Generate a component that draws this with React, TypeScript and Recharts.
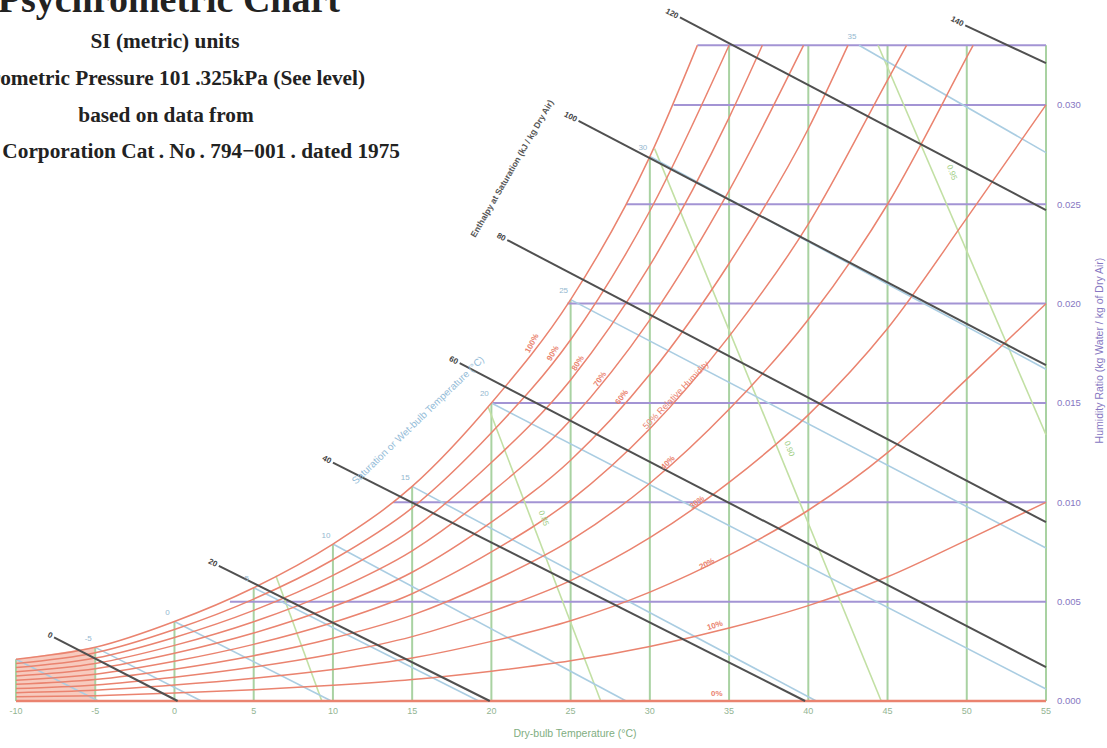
import React from 'react'
import { ComposedChart, Line, Area, XAxis, YAxis, ReferenceDot } from 'recharts'

const FONT = "'Liberation Sans', Arial, sans-serif"
const SERIF = "'Liberation Serif', 'Times New Roman', serif"

const RED = '#ea836f'
const GREEN = '#a9d2a2'
const PURPLE = '#a394d4'
const BLACK = '#505050'
const BLUE = '#aacde2'
const VGREEN = '#c2e0a4'

// dry-bulb grid (°C)
const temps = [-10, -5, 0, 5, 10, 15, 20, 25, 30, 35, 40, 45, 50, 55]

// relative humidity curves: humidity ratio (kg/kg) at each grid temperature
const rh10 = [0.00021, 0.00027, 0.0004, 0.00057, 0.00079, 0.00108, 0.0015, 0.00202, 0.00274, 0.00367, 0.0048, 0.00625, 0.0081, 0.01]
const rh20 = [0.00042, 0.00054, 0.0008, 0.00114, 0.00158, 0.00216, 0.003, 0.00404, 0.00548, 0.00734, 0.0096, 0.0125, 0.0162, 0.02]
const rh30 = [0.00063, 0.00081, 0.0012, 0.00171, 0.00237, 0.00324, 0.0045, 0.00606, 0.00822, 0.011, 0.0144, 0.01875, 0.0243, 0.03]
const rh40 = [0.00084, 0.00108, 0.0016, 0.00228, 0.00316, 0.00432, 0.006, 0.00808, 0.01096, 0.01468, 0.0192, 0.025, 0.0324]
const rh50 = [0.00105, 0.00135, 0.002, 0.00285, 0.00395, 0.0054, 0.0075, 0.0101, 0.0137, 0.01835, 0.024, 0.03125]
const rh60 = [0.00126, 0.00162, 0.0024, 0.00342, 0.00474, 0.00648, 0.009, 0.01212, 0.01644, 0.02202, 0.0288]
const rh70 = [0.00147, 0.00189, 0.0028, 0.00399, 0.00553, 0.00756, 0.0105, 0.01414, 0.01918, 0.02569]
const rh80 = [0.00168, 0.00216, 0.0032, 0.00456, 0.00632, 0.00864, 0.012, 0.01616, 0.02192, 0.02936]
const rh90 = [0.00189, 0.00243, 0.0036, 0.00513, 0.00711, 0.00972, 0.0135, 0.01818, 0.02466]
const rh100 = [0.0021, 0.0027, 0.004, 0.0057, 0.0079, 0.0108, 0.015, 0.0202, 0.0274]
const rhSeries = [rh10, rh20, rh30, rh40, rh50, rh60, rh70, rh80, rh90, rh100]
// temperature where each curve meets the top line
const rhExitT = [null, null, null, 50.4, 46.2, 42.5, 39.7, 37.1, 35.0, 33.0]

const topW = 0.033
const yMax = 0.03528

// dry-bulb verticals: top of each line
const dbTop = [0.0021, 0.0027, 0.004, 0.0057, 0.0079, 0.0108, 0.015, 0.0202, 0.0274, 0.033, 0.033, 0.033, 0.033, 0.033]

// humidity ratio horizontals
const wLevels = [0.005, 0.01, 0.015, 0.02, 0.025, 0.03, 0.033]
const wStartT = [3.5, 13.8, 20.1, 24.8, 28.5, 31.5, 33.0]
const wTicks = [0, 0.005, 0.01, 0.015, 0.02, 0.025, 0.03]

// enthalpy lines (kJ/kg dry air)
const hLabels = ['0', '20', '40', '60', '80', '100', '120', '140']
const hStart = [[-7.6, 0.0032], [2.8, 0.0068], [10.0, 0.012], [18.0, 0.017], [21.0, 0.0232], [25.5, 0.0292], [31.9, 0.0344], [49.9, 0.034]]
const hEnd = [[0.2, 0], [19.9, 0], [39.8, 0], [55, 0.0017], [55, 0.009], [55, 0.0169], [55, 0.0247], [55, 0.0321]]

// wet-bulb lines (°C)
const wbLabels = ['', '-5', '0', '5', '10', '15', '20', '25', '30', '35']
const wbStart = [[-10, 0.0021], [-5, 0.0027], [0, 0.004], [5, 0.0057], [10, 0.0079], [15, 0.0108], [20, 0.015], [25, 0.0202], [30, 0.0274], [43.2, 0.033]]
const wbEnd = [[-4.8, 0], [1.7, 0], [9.9, 0], [19.2, 0], [28.5, 0], [40.5, 0], [55, 0.0006], [55, 0.0077], [55, 0.0167], [55, 0.0276]]

// specific volume lines (m3/kg)
const vStart = [[6.4, 0.0063], [19.8, 0.0148], [30.3, 0.0278], [44.4, 0.033]]
const vEnd = [[9.3, 0], [26.9, 0], [44.6, 0], [55, 0.0134]]
const vTags: [string, number, number][] = [['0.85', 23.3, 0.0092], ['0.90', 38.8, 0.0127], ['0.95', 49.06, 0.0266]]

// relative humidity tags: text, t, w, angle
const rhTags: [string, number, number, number][] = [
  ['100%', 22.56, 0.018, -62],
  ['90%', 23.88, 0.0175, -60],
  ['80%', 25.46, 0.017, -58],
  ['70%', 26.85, 0.0162, -56],
  ['60%', 28.23, 0.0153, -53],
  ['40%', 31.14, 0.012, -45],
  ['30%', 32.97, 0.01, -38],
  ['20%', 33.6, 0.0069, -28],
  ['10%', 34.1, 0.0038, -18],
  ['0%', 34.23, 0.0004, 0],
]

const iceZone = [{ t: -10, w: 0.0021 }, { t: -5, w: 0.0027 }]

const seg = (a: number[], b: number[]) => [{ t: a[0], w: a[1] }, { t: b[0], w: b[1] }]

const rhCurve = (vals: number[], exitT: number | null) => {
  const pts = vals.map((w, i) => ({ t: temps[i], w }))
  if (exitT != null) pts.push({ t: exitT, w: topW })
  return pts
}

const tag = (text: string, color: string, size: number, angle: number, anchor = 'middle', dx = 0, dy = 0, weight = 'normal') =>
  (p: any) => {
    const x = p.viewBox.x + dx
    const y = p.viewBox.y + dy
    return (
      <text x={x} y={y} fill={color} fontSize={size} fontFamily={FONT} fontWeight={weight}
        textAnchor={anchor} dominantBaseline="central" transform={`rotate(${angle} ${x} ${y})`}>
        {text}
      </text>
    )
  }

const lineProps = { dot: false, activeDot: false, isAnimationActive: false, type: 'linear' as const, dataKey: 'w' }

const spot = (key: string, t: number, w: number, label: any) => (
  <ReferenceDot key={key} x={t} y={w} r={0} fill="none" stroke="none" ifOverflow="visible" label={label} />
)

export default function App() {
  return (
    <div style={{ position: 'absolute', left: 0, top: 0, width: 1107, height: 748, overflow: 'hidden', background: '#fff' }}>
      <ComposedChart width={1107} height={748} margin={{ top: 0, right: 0, bottom: 0, left: 16 }}>
        <XAxis
          type="number"
          dataKey="t"
          domain={[-10, 55]}
          ticks={temps}
          axisLine={false}
          tickLine={false}
          tickSize={4}
          tickMargin={3}
          height={47}
          tick={{ fontSize: 9, fill: '#93b593', fontFamily: FONT }}
          label={{
            content: ({ viewBox }: any) => (
              <text x={viewBox.x + viewBox.width / 2 + 44} y={viewBox.y + 36} textAnchor="middle"
                fill="#7fae7f" fontSize={10.5} fontFamily={FONT}>
                Dry-bulb Temperature (°C)
              </text>
            ),
          }}
        />
        <YAxis
          type="number"
          orientation="right"
          domain={[0, yMax]}
          ticks={wTicks}
          width={61}
          axisLine={false}
          tickLine={false}
          tickSize={6}
          tickMargin={5}
          tickFormatter={(v: number) => v.toFixed(3)}
          tick={{ fontSize: 9.5, fill: '#8677c2', fontFamily: FONT }}
          label={{
            content: ({ viewBox }: any) => {
              const x = viewBox.x + 53
              const y = viewBox.y + viewBox.height / 2
              return (
                <text x={x} y={y} textAnchor="middle" dominantBaseline="central" fill="#8677c2"
                  fontSize={10.5} fontFamily={FONT} transform={`rotate(-90 ${x} ${y})`}>
                  Humidity Ratio (kg Water / kg of Dry Air)
                </text>
              )
            },
          }}
        />

        <Area data={iceZone} dataKey="w" type="linear" fill="#f2a792" fillOpacity={0.6} stroke="none" isAnimationActive={false} dot={false} activeDot={false} />

        {temps.map((t, i) => (
          <Line key={`db${t}`} {...lineProps} data={seg([t, 0], [t, dbTop[i]])} stroke={GREEN} strokeWidth={2} />
        ))}
        {wLevels.map((w, i) => (
          <Line key={`w${w}`} {...lineProps} data={seg([wStartT[i], w], [55, w])} stroke={PURPLE} strokeWidth={2} />
        ))}
        {vStart.map((s, i) => (
          <Line key={`v${i}`} {...lineProps} data={seg(s, vEnd[i])} stroke={VGREEN} strokeWidth={1.6} />
        ))}
        {wbStart.map((s, i) => (
          <Line key={`wb${i}`} {...lineProps} data={seg(s, wbEnd[i])} stroke={BLUE} strokeWidth={1.6} />
        ))}
        {rhSeries.map((vals, i) => (
          <Line key={`rh${i}`} {...lineProps} type="monotone" data={rhCurve(vals, rhExitT[i])} stroke={RED} strokeWidth={1.5} />
        ))}
        <Line {...lineProps} data={seg([-10, 0], [55, 0])} stroke={RED} strokeWidth={2.5} />
        {hStart.map((s, i) => (
          <Line key={`h${i}`} {...lineProps} data={seg(s, hEnd[i])} stroke={BLACK} strokeWidth={2} />
        ))}

        {hStart.map((s, i) => spot(`hl${i}`, s[0], s[1], tag(hLabels[i], '#444', 8, 27, 'end', -2, -1, 'bold')))}
        {wbStart.map((s, i) => spot(`wbl${i}`, s[0], s[1], tag(wbLabels[i], '#94b8d0', 8, 0, 'middle', -7, -9)))}
        {rhTags.map(([txt, t, w, a]) => spot(`rhl${txt}`, t, w, tag(txt, RED, 8, a, 'middle', 0, 0, 'bold')))}
        {vTags.map(([txt, t, w]) => spot(`vl${txt}`, t, w, tag(txt, '#9ccc80', 8, 69)))}
        {spot('rhTitle', 31.64, 0.0154, tag('50% Relative Humidity', RED, 9, -46))}
        {spot('hTitle', 21.3, 0.0268, tag('Enthalpy at Saturation (kJ / kg Dry Air)', '#555', 8.6, -60, 'middle', 0, 0, 'bold'))}
        {spot('wbTitle', 15.36, 0.01414, tag('Saturation or Wet-bulb Temperature (°C)', '#94bcd8', 10, -44))}
      </ComposedChart>

      <svg width={1107} height={748} style={{ position: 'absolute', left: 0, top: 0, pointerEvents: 'none' }}>
        <g fontFamily={SERIF} fontWeight="bold" fill="#222">
          <text x={340} y={12} fontSize={38} textAnchor="end">Psychrometric Chart</text>
          <text x={165} y={48} fontSize={21.3} textAnchor="middle">SI (metric) units</text>
          <text x={365} y={85} fontSize={21.3} textAnchor="end">Barometric Pressure 101{'\u2009'}.325kPa (See level)</text>
          <text x={166} y={122} fontSize={21.3} textAnchor="middle">based on data from</text>
          <text x={400} y={158} fontSize={21.3} textAnchor="end">Carrier Corporation Cat{'\u2009'}. No{'\u2009'}. 794−001{'\u2009'}. dated 1975</text>
        </g>
      </svg>
    </div>
  )
}
